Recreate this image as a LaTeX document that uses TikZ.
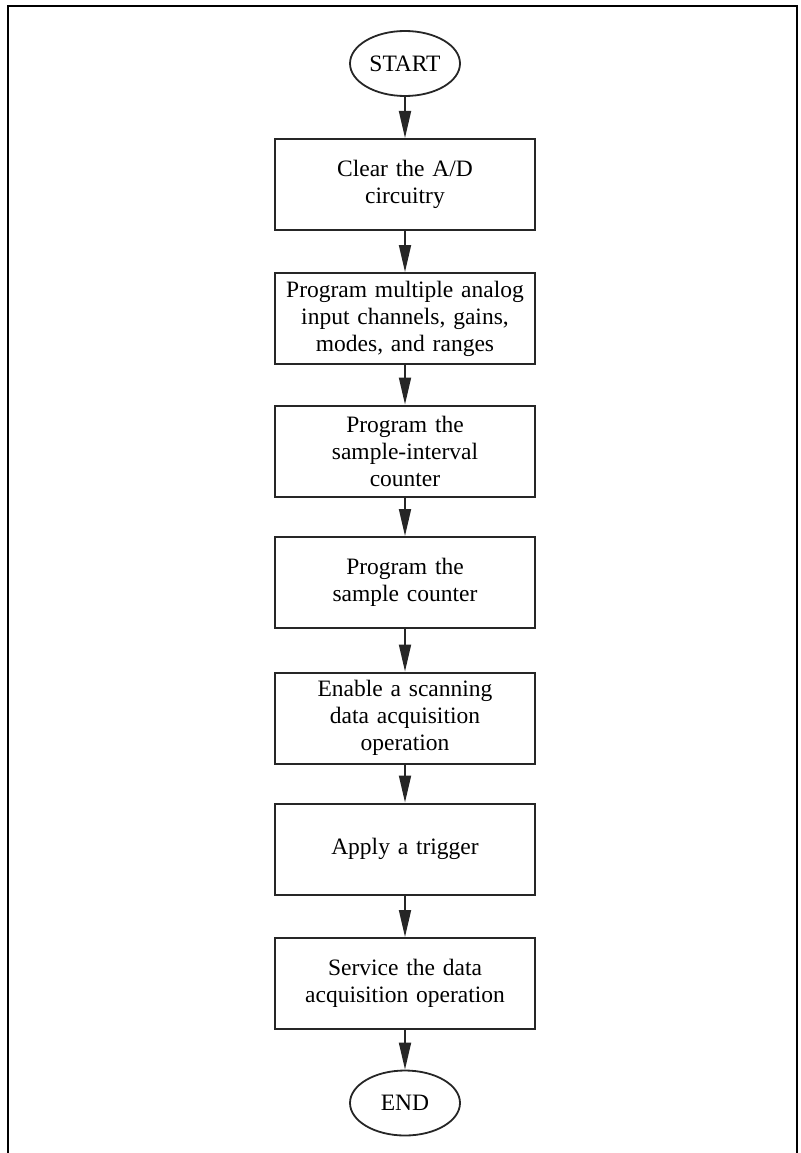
\documentclass[tikz,border=0pt]{standalone}
\usepackage{fontspec}
\setmainfont[WordSpace=0.8]{Liberation Serif}
\usetikzlibrary{shapes.geometric,arrows.meta}

\begin{document}
\begin{tikzpicture}[x=1pt, y=-1pt,
    stepbox/.style={draw=black!85, line width=2pt, minimum width=260pt, minimum height=91pt,
                    text width=252pt, align=center, inner sep=0pt,
                    font=\fontsize{23.5}{27}\selectfont},
    termnode/.style={draw=black!85, ellipse, line width=1.8pt, minimum width=110pt, minimum height=65pt,
                     inner sep=0pt, font=\fontsize{23.5}{27}\selectfont},
    flow/.style={-{Triangle[length=27pt, width=12pt]}, line width=1.8pt, black!85}]
  \useasboundingbox (0,0) rectangle (800,1153);

  % ---------------- the frame, open at the foot ----------------
  \draw[black, line width=2.6pt] (8,1153) -- (8,6) -- (797,6) -- (797,1153);

  % ---------------- the steps ----------------
  \node[termnode] (start) at (405,63.5)  {START};
  \node[stepbox]  (clear) at (405,184.5) {Clear the A/D\\circuitry};
  \node[stepbox]  (chans) at (405,318.5) {Program multiple analog\\input channels, gains,\\modes, and ranges};
  \node[stepbox]  (sic)   at (405,451)   {Program the\\sample-interval\\counter};
  \node[stepbox]  (sc)    at (405,582.5) {Program the\\sample counter};
  \node[stepbox]  (enab)  at (405,718)   {Enable a scanning\\data acquisition\\operation};
  \node[stepbox]  (trig)  at (405,849)   {Apply a trigger};
  \node[stepbox]  (serv)  at (405,983.5) {Service the data\\acquisition operation};
  \node[termnode] (stop)  at (405,1103)  {END};

  % ---------------- the arrows ----------------
  \draw[flow] (start) -- (clear);
  \draw[flow] (clear) -- (chans);
  \draw[flow] (chans) -- (sic);
  \draw[flow] (sic)   -- (sc);
  \draw[flow] (sc)    -- (enab);
  \draw[flow] (enab)  -- (trig);
  \draw[flow] (trig)  -- (serv);
  \draw[flow] (serv)  -- (stop);
\end{tikzpicture}
\end{document}
